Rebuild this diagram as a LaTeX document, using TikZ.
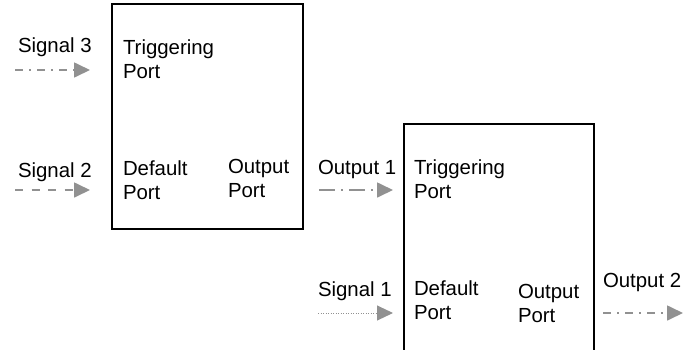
\documentclass[tikz,border=0pt]{standalone}
\usepackage{fontspec}
\setmainfont{Liberation Sans}
\usetikzlibrary{arrows.meta}
\begin{document}
\begin{tikzpicture}[x=1pt,y=-1pt,
  every node/.style={inner sep=0pt,outer sep=0pt,font=\fontsize{20.4}{24}\selectfont,text=black,align=left,anchor=base west},
  blockbox/.style={draw=black,line width=1.5pt,minimum width=#1,rectangle,anchor=north west},
  sig/.style={draw={rgb,255:red,145;green,145;blue,145},line width=1.7pt,
    -{Triangle[length=16pt,width=15pt,fill={rgb,255:red,145;green,145;blue,145}]}},
  dashdot/.style={dash pattern=on 8pt off 6pt on 2pt off 6pt},
  longdashdot/.style={dash pattern=on 16pt off 6pt on 2pt off 6pt},
  shortdash/.style={dash pattern=on 8pt off 8.5pt},
  finedot/.style={line width=1pt,dash pattern=on 1pt off 1.5pt}]
\useasboundingbox (0,0) rectangle (696,349);
\clip (0,0) rectangle (696,349);
% blocks
\node[blockbox=191pt,minimum height=225pt] (box1) at (112,4) {};
\node[blockbox=190pt,minimum height=260pt] (box2) at (404,124) {};
% labels block 1 (anchor = baseline of last line)
\node (trig1) at (123,78) {Triggering\\Port};
\node (def1) at (123,199) {Default\\Port};
\node (out1) at (228,197) {Output\\Port};
% labels block 2
\node (trig2) at (414,198) {Triggering\\Port};
\node (def2) at (414,319) {Default\\Port};
\node (out2) at (518,322) {Output\\Port};
% signal labels
\node (s3) at (18,52.5) {Signal 3};
\node (s2) at (18,177) {Signal 2};
\node (o1) at (318,174) {Output 1};
\node (s1) at (318,296) {Signal 1};
\node (o2) at (603,287) {Output 2};
% arrow coordinates
\coordinate (s3a) at (15,70);  \coordinate (s3b) at (90,70);
\coordinate (s2a) at (15,190); \coordinate (s2b) at (90,190);
\coordinate (o1a) at (319,190); \coordinate (o1b) at (393,190);
\coordinate (s1a) at (318,313); \coordinate (s1b) at (393,313);
\coordinate (o2a) at (603,313); \coordinate (o2b) at (683,313);
\draw[sig,dashdot] (s3a) -- (s3b);
\draw[sig,shortdash] (s2a) -- (s2b);
\draw[sig,longdashdot] (o1a) -- (o1b);
\draw[sig,finedot] (s1a) -- (s1b);
\draw[sig,dashdot] (o2a) -- (o2b);
\end{tikzpicture}
\end{document}
